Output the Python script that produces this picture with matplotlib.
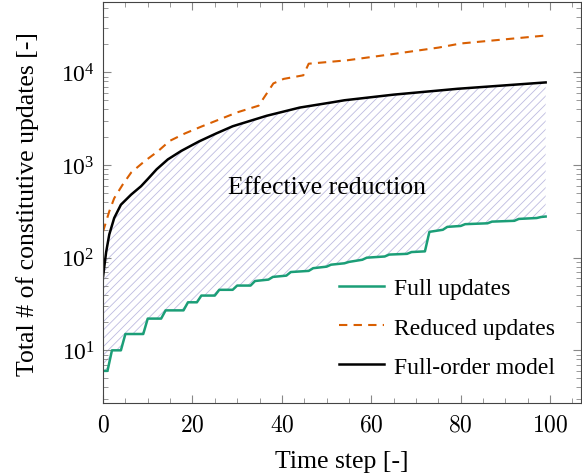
import matplotlib
matplotlib.use('Agg')
import matplotlib.pyplot as plt
import numpy as np
from matplotlib.ticker import LogLocator, MultipleLocator, FuncFormatter, NullFormatter

# Full updates (step-like)
full_x = [0, 1, 2, 4, 5, 9, 10, 13, 14, 18, 19, 21, 22, 25, 26, 29, 30, 33, 34,
          37, 38, 41, 42, 46, 47, 50, 51, 54, 55, 58, 59, 63, 64, 68, 69, 72, 73,
          76, 77, 80, 81, 86, 87, 92, 93, 97, 98, 99]
full_y = [6, 6, 10, 10, 15, 15, 22, 22, 27, 27, 33, 33, 39, 39, 45, 45, 50, 50, 56,
          58, 62, 64, 70, 72, 77, 80, 84, 87, 90, 95, 100, 103, 108, 110, 115, 117, 190,
          200, 215, 220, 230, 235, 245, 250, 262, 268, 275, 278]

# Reduced updates
red_x = [0, 1.4, 2.5, 4.4, 6.3, 9.3, 12.3, 14.9, 18.3, 22, 26, 30, 34.8, 36.6, 38.1,
         40.4, 44.8, 46, 54.6, 65, 75, 80, 99]
red_y = [191, 316, 438, 615, 830, 1100, 1410, 1820, 2190, 2600, 3100, 3700, 4370, 5900, 7600,
         8500, 9300, 12400, 13500, 15800, 18500, 20500, 25000]

# Full-order model
fom_x = [0, 0.7, 1.4, 2.5, 4, 6.3, 8.5, 10, 12, 14.5, 17.5, 21.5, 25.3, 29, 36.6, 44,
         51.6, 54, 65, 79.3, 99]
fom_y = [62, 115, 178, 268, 373, 480, 590, 705, 900, 1150, 1420, 1800, 2190, 2620, 3400, 4170,
         4780, 5000, 5750, 6650, 7790]

plt.rcParams['font.family'] = 'Liberation Serif'
plt.rcParams['mathtext.fontset'] = 'cm'
plt.rcParams['hatch.linewidth'] = 0.6
plt.rcParams['hatch.color'] = '#bdbbe0'

fig = plt.figure(figsize=(5.82, 4.77), dpi=100)
ax = fig.add_axes([0.177, 0.153, 0.822, 0.840])

# hatched area between full updates and full-order model
xs = np.union1d(full_x, fom_x)
lo = np.interp(xs, full_x, full_y)
hi = np.interp(xs, fom_x, fom_y)
ax.fill_between(xs, lo, hi, facecolor='none', edgecolor='#bdbbe0', hatch='////', linewidth=0)

ax.plot(full_x, full_y, '-', color='#1b9e77', lw=1.8, label='Full updates')
ax.plot(red_x, red_y, '--', color='#d95f02', lw=1.5, label='Reduced updates', dashes=(4, 3))
ax.plot(fom_x, fom_y, '-', color='black', lw=1.8, label='Full-order model')

ax.text(50, 575, 'Effective reduction', ha='center', va='center', fontsize=18.5)

ax.set_yscale('log')
ax.set_xlim(0, 107)
ax.set_ylim(2.7, 57000)
ax.xaxis.set_major_locator(MultipleLocator(20))
ax.xaxis.set_minor_locator(MultipleLocator(5))
ax.xaxis.set_major_formatter(FuncFormatter(lambda v, p: r'$%d$' % v))
ax.yaxis.set_major_locator(LogLocator(base=10, numticks=10))
ax.yaxis.set_minor_locator(LogLocator(base=10, subs=np.arange(2, 10), numticks=10))
ax.yaxis.set_minor_formatter(NullFormatter())

for s in ax.spines.values():
    s.set_color('#444444')
ax.tick_params(which='both', direction='in', top=True, right=True, colors='#888888',
               labelcolor='black')
ax.tick_params(which='major', length=6, labelsize=17, pad=6)
ax.tick_params(axis='x', which='major', pad=8)
ax.tick_params(which='minor', length=3.5)

ax.set_xlabel('Time step [-]', fontsize=18.5, labelpad=11)
ax.set_ylabel('Total # of constitutive updates [-]', fontsize=18.5, labelpad=16)

ax.legend(loc='lower right', frameon=False, fontsize=17, handlelength=1.9,
          handletextpad=0.45, labelspacing=0.75, bbox_to_anchor=(0.99, 0.01))

fig.savefig('out.png', dpi=100)
